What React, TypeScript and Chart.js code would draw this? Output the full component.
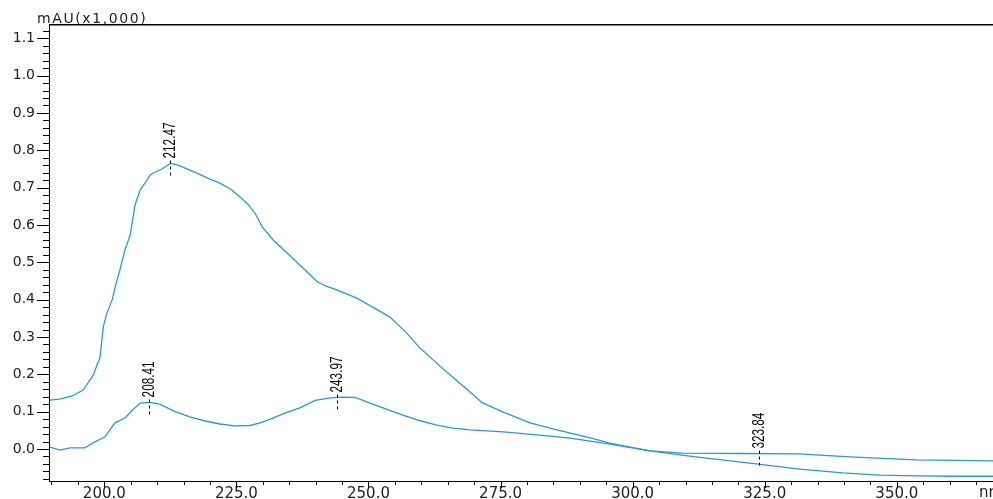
import { useEffect, useRef } from "react";
import { Chart, registerables } from "chart.js";

Chart.register(...registerables);

// Upper trace (strong peak near 212 nm)
const wavelengths1 = [
  189.7, 191.8, 193.9, 196.0, 197.9, 199.2, 199.8, 200.5, 201.5, 202.4, 202.8,
  203.9, 204.9, 205.8, 206.8, 207.7, 208.7, 209.6, 210.9, 212.5, 213.8, 215.5,
  217.5, 219.8, 221.9, 224.0, 225.7, 227.2, 228.5, 229.9, 232.0, 234.6, 237.6,
  240.3, 242.0, 244.0, 247.8, 250.8, 254.0, 257.2, 259.7, 262.9, 265.9, 268.8,
  271.5, 275.5, 280.6, 284.0, 288.0, 292.0, 295.7, 299.5, 303.3, 310.0, 316.0,
  322.2, 331.6, 339.8, 346.8, 353.8, 361.0, 368.2,
];
const absorbance1 = [
  0.131, 0.134, 0.142, 0.158, 0.198, 0.246, 0.327, 0.364, 0.4, 0.453, 0.471,
  0.533, 0.573, 0.653, 0.694, 0.712, 0.734, 0.742, 0.75, 0.765, 0.761, 0.751,
  0.739, 0.724, 0.712, 0.695, 0.675, 0.655, 0.632, 0.595, 0.559, 0.525, 0.485,
  0.448, 0.436, 0.426, 0.404, 0.38, 0.354, 0.311, 0.271, 0.23, 0.193, 0.158,
  0.124, 0.099, 0.07, 0.057, 0.043, 0.03, 0.016, 0.005, -0.005, -0.018, -0.028,
  -0.038, -0.054, -0.064, -0.07, -0.072, -0.073, -0.073,
];

// Lower trace (peaks near 208 nm and 244 nm)
const wavelengths2 = [
  189.7, 191.6, 193.5, 196.3, 198.2, 200.1, 202.0, 203.9, 205.4, 206.8, 208.6,
  210.5, 213.4, 216.2, 219.1, 221.9, 224.7, 227.6, 229.5, 231.4, 234.2, 237.0,
  239.9, 242.7, 245.2, 247.5, 250.3, 253.5, 256.5, 259.5, 262.9, 266.0, 269.2,
  275.5, 281.9, 288.2, 295.7, 303.3, 309.5, 320.0, 331.6, 341.0, 353.7, 368.2,
];
const absorbance2 = [
  0.005, -0.003, 0.003, 0.003, 0.019, 0.032, 0.07, 0.083, 0.105, 0.123, 0.125,
  0.12, 0.1, 0.086, 0.075, 0.067, 0.062, 0.063, 0.07, 0.08, 0.096, 0.11,
  0.13, 0.137, 0.139, 0.138, 0.123, 0.106, 0.091, 0.077, 0.064, 0.056, 0.051,
  0.046, 0.038, 0.029, 0.013, -0.005, -0.011, -0.012, -0.013, -0.021, -0.029, -0.032,
];

const xTicks = [200, 225, 250, 275, 300, 325, 350];
const yTicks = [0, 0.1, 0.2, 0.3, 0.4, 0.5, 0.6, 0.7, 0.8, 0.9, 1.0, 1.1];

const peakLabels = ["212.47", "208.41", "243.97", "323.84"];
const peakWavelengths = [212.47, 208.41, 243.97, 323.84];
const peakSeries = [0, 1, 1, 1];

const yAxisTitle = "mAU(x1,000)";
const xAxisUnit = "nm";

const X_MIN = 189.72;
const X_MAX = 368.2;
const Y_MIN = -0.0857;
const Y_MAX = 1.1356;

const LINE_COLOR = "#2a98d4";
const TICK_FONT = "DejaVu Sans";

function interp(xs: number[], ys: number[], x: number): number {
  for (let i = 0; i < xs.length - 1; i++) {
    if (x >= xs[i] && x <= xs[i + 1]) {
      const t = (x - xs[i]) / (xs[i + 1] - xs[i]);
      return ys[i] + t * (ys[i + 1] - ys[i]);
    }
  }
  return ys[ys.length - 1];
}

const seriesX = [wavelengths1, wavelengths2];
const seriesY = [absorbance1, absorbance2];

const zeroPadding = (s: any) => {
  s.paddingTop = 0;
  s.paddingBottom = 0;
  s.paddingLeft = 0;
  s.paddingRight = 0;
};

const decorPlugin = {
  id: "decor",
  afterDraw(chart: any) {
    const ctx = chart.ctx as CanvasRenderingContext2D;
    const { left, top, right, bottom } = chart.chartArea;
    const xs = chart.scales.x;
    const ys = chart.scales.y;
    ctx.save();
    ctx.strokeStyle = "#000";
    ctx.lineWidth = 1;
    ctx.beginPath();
    // axis lines
    ctx.moveTo(left - 0.5, top);
    ctx.lineTo(left - 0.5, bottom);
    ctx.moveTo(left - 1, bottom + 0.5);
    ctx.lineTo(right, bottom + 0.5);
    // y ticks (major 0.1, minor 0.02)
    for (let i = -4; i <= 56; i++) {
      const v = i * 0.02;
      if (v < Y_MIN || v > Y_MAX) continue;
      const major = i % 5 === 0;
      const py = Math.round(ys.getPixelForValue(v)) + 0.5;
      ctx.moveTo(left - (major ? 13 : 7), py);
      ctx.lineTo(left, py);
    }
    // x ticks (major 25, minor 5)
    for (let v = 190; v <= X_MAX; v += 5) {
      const major = v % 25 === 0;
      const px = Math.round(xs.getPixelForValue(v)) + 0.5;
      ctx.moveTo(px, bottom);
      ctx.lineTo(px, bottom + (major ? 7 : 4));
    }
    ctx.stroke();
    // top frame line
    ctx.lineWidth = 1.5;
    ctx.beginPath();
    ctx.moveTo(left - 1, top - 0.25);
    ctx.lineTo(right, top - 0.25);
    ctx.stroke();

    // axis title + unit
    ctx.fillStyle = "#222";
    ctx.font = `14px "${TICK_FONT}"`;
    ctx.textBaseline = "alphabetic";
    ctx.textAlign = "left";
    (ctx as any).letterSpacing = "1.6px";
    ctx.fillText(yAxisTitle, 37, 23);
    (ctx as any).letterSpacing = "0px";
    ctx.font = `15px "${TICK_FONT}"`;
    ctx.textBaseline = "top";
    ctx.fillText(xAxisUnit, 979, 486);

    // peak annotations
    ctx.font = `16px "Liberation Sans", Arial, sans-serif`;
    for (let k = 0; k < peakLabels.length; k++) {
      const s = peakSeries[k];
      const val = interp(seriesX[s], seriesY[s], peakWavelengths[k]);
      const px = Math.round(xs.getPixelForValue(peakWavelengths[k])) + 0.5;
      const py = ys.getPixelForValue(val);
      ctx.strokeStyle = "#000";
      ctx.lineWidth = 1;
      ctx.setLineDash([3, 3]);
      ctx.beginPath();
      ctx.moveTo(px, py + 12);
      ctx.lineTo(px, py - 4);
      ctx.stroke();
      ctx.setLineDash([]);
      ctx.save();
      ctx.translate(px, py - 5);
      ctx.rotate(-Math.PI / 2);
      const w = ctx.measureText(peakLabels[k]).width;
      ctx.scale(36 / w, 1);
      ctx.fillStyle = "#000";
      ctx.textAlign = "left";
      ctx.textBaseline = "middle";
      ctx.fillText(peakLabels[k], 0, 0.5);
      ctx.restore();
    }
    ctx.restore();
  },
};

export default function App() {
  const canvasRef = useRef<HTMLCanvasElement | null>(null);

  useEffect(() => {
    if (!canvasRef.current) return;
    const toXY = (xs: number[], ys: number[]) => xs.map((x, i) => ({ x, y: ys[i] }));
    const chart = new Chart(canvasRef.current, {
      type: "line",
      data: {
        datasets: [
          {
            data: toXY(wavelengths1, absorbance1),
            borderColor: LINE_COLOR,
            borderWidth: 1.3,
            pointRadius: 0,
            tension: 0,
            fill: false,
          },
          {
            data: toXY(wavelengths2, absorbance2),
            borderColor: LINE_COLOR,
            borderWidth: 1.3,
            pointRadius: 0,
            tension: 0,
            fill: false,
          },
        ],
      },
      options: {
        animation: false,
        responsive: true,
        maintainAspectRatio: false,
        layout: { padding: { top: 25, left: 0, right: 0, bottom: 0 } },
        plugins: { legend: { display: false }, tooltip: { enabled: false } },
        scales: {
          x: {
            type: "linear",
            min: X_MIN,
            max: X_MAX,
            afterFit: (s: any) => {
              s.height = 18;
              zeroPadding(s);
            },
            afterBuildTicks: (s: any) => {
              s.ticks = xTicks.map((v) => ({ value: v }));
            },
            grid: { display: false, drawTicks: false },
            border: { display: false },
            ticks: {
              autoSkip: false,
              maxRotation: 0,
              padding: 4,
              color: "#222",
              font: { family: TICK_FONT, size: 15 },
              callback: (v: any) => Number(v).toFixed(1),
            },
          },
          y: {
            type: "linear",
            min: Y_MIN,
            max: Y_MAX,
            afterFit: (s: any) => {
              s.width = 50;
              zeroPadding(s);
            },
            afterBuildTicks: (s: any) => {
              s.ticks = yTicks.map((v) => ({ value: v }));
            },
            grid: { display: false, drawTicks: false },
            border: { display: false },
            ticks: {
              autoSkip: false,
              padding: 15,
              color: "#222",
              font: { family: TICK_FONT, size: 14 },
              callback: (v: any) => Number(v).toFixed(1),
            },
          },
        },
      },
      plugins: [decorPlugin],
    });
    return () => chart.destroy();
  }, []);

  return (
    <div style={{ position: "fixed", left: 0, top: 0, width: 993, height: 499, background: "#fff" }}>
      <canvas ref={canvasRef} />
    </div>
  );
}
